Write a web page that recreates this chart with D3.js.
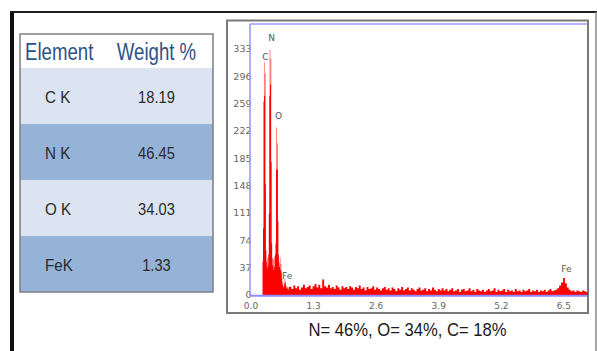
<!DOCTYPE html>
<html><head><meta charset="utf-8">
<script src="https://cdn.jsdelivr.net/npm/d3@7"></script>
<style>body{margin:0;background:#fff}svg{display:block}</style>
</head><body>
<script>
// ---- data ----
const tableHeader = ["Element", "Weight %"];
const elements = ["C K", "N K", "O K", "FeK"];
const weights = ["18.19", "46.45", "34.03", "1.33"];

const yTicks = [0, 37, 74, 111, 148, 185, 222, 259, 296, 333];
const xTicks = [0.0, 1.3, 2.6, 3.9, 5.2, 6.5];

// low-energy channels (keV start / step) with counts
const peakStartKeV = 0.23, peakStepKeV = 0.01;
const peakCounts = [
  0, 45, 90, 262, 315, 270, 300, 150, 60, 45,
  36, 50, 40, 55, 110, 270, 332, 285, 320, 180,
  70, 50, 40, 48, 34, 52, 38, 55, 70, 170,
  227, 170, 205, 100, 55, 44, 38, 50, 34, 42,
  30, 22, 14, 18, 10, 12, 16, 22, 18, 14,
  9, 12, 8, 11, 7, 10, 12
];
// background channels
const bgStartKeV = 0.80, bgStepKeV = 0.04;
const bgCounts = [
  11, 8, 13, 9, 12, 7, 10, 14, 9, 11,
  13, 8, 12, 15, 10, 14, 9, 21, 12, 10,
  14, 9, 11, 8, 13, 10, 7, 12, 9, 11,
  8, 12, 10, 7, 11, 9, 13, 8, 10, 6,
  11, 8, 9, 12, 7, 10, 8, 6, 9, 11,
  7, 9, 6, 10, 8, 5, 9, 7, 11, 6,
  8, 10, 6, 9, 7, 5, 8, 10, 6, 7,
  9, 5, 8, 6, 10, 7, 5, 8, 6, 9,
  6, 8, 5, 7, 9, 5, 6, 8, 4, 7,
  8, 5, 6, 9, 5, 7, 4, 8, 6, 5,
  7, 4, 6, 8, 5, 6, 9, 4, 7, 5,
  6, 8, 4, 7, 5, 6, 4, 8, 5, 6,
  4, 7, 5, 6, 8, 4, 6, 5, 7, 4,
  6, 5, 7, 4, 6, 8, 5, 6, 7, 9,
  13, 17, 23, 16, 10, 7, 5, 6, 4, 6,
  5, 4, 6, 5, 4, 5
];

const peakLabels = ["C", "N", "O", "Fe", "Fe"];
const peakLabelKeV = [0.30, 0.43, 0.575, 0.75, 6.55];
const peakLabelCounts = [318, 344, 238, 22, 31];

const caption = "N= 46%, O= 34%, C= 18%";

// ---- drawing ----
const W = 597, H = 351;
const svg = d3.select("body").append("svg").attr("width", W).attr("height", H)
  .style("background", "#fff");

function squeeze(sel, f) {
  sel.each(function () {
    const len = this.getComputedTextLength();
    d3.select(this).attr("textLength", len * f).attr("lengthAdjust", "spacingAndGlyphs");
  });
}

// outer frame
svg.append("line").attr("x1", 10).attr("x2", 597).attr("y1", 12).attr("y2", 12)
  .attr("stroke", "#1e1e1e").attr("stroke-width", 2);
svg.append("rect").attr("x", 10).attr("y", 12).attr("width", 4).attr("height", H - 12).attr("fill", "#111");
svg.append("line").attr("x1", 596).attr("x2", 596).attr("y1", 12).attr("y2", H)
  .attr("stroke", "#8a8a8a").attr("stroke-width", 1.5);

// ---- table ----
const tX0 = 20, tX1 = 213, tY0 = 34, headH = 34;
const rowBand = d3.scaleBand().domain(elements).range([tY0 + headH, 292]);
const rowFill = ["#dbe4f0", "#95b3d7"];
const tg = svg.append("g");
tg.append("rect").attr("x", tX0).attr("y", tY0).attr("width", tX1 - tX0).attr("height", headH).attr("fill", "#fff");
tg.selectAll("rect.row").data(elements).enter().append("rect").attr("class", "row")
  .attr("x", tX0).attr("width", tX1 - tX0)
  .attr("y", d => rowBand(d)).attr("height", rowBand.bandwidth())
  .attr("fill", (d, i) => rowFill[i % 2]);
tg.append("rect").attr("x", tX0).attr("y", tY0).attr("width", tX1 - tX0).attr("height", 292 - tY0)
  .attr("fill", "none").attr("stroke", "#7f7f7f").attr("stroke-width", 1.5);

const colX = [25, 156.5];
const hdr = tg.selectAll("text.h").data(tableHeader).enter().append("text").attr("class", "h")
  .attr("x", (d, i) => colX[i]).attr("y", 60)
  .attr("text-anchor", (d, i) => i === 0 ? "start" : "middle")
  .attr("font-family", "Liberation Sans, Arial, sans-serif").attr("font-size", 23)
  .attr("fill", "#2e5189").text(d => d);
squeeze(hdr, 0.81);

const c1 = tg.selectAll("text.e").data(elements).enter().append("text").attr("class", "e")
  .attr("x", 45).attr("y", d => rowBand(d) + rowBand.bandwidth() / 2 + 6.5)
  .attr("font-family", "Liberation Sans, Arial, sans-serif").attr("font-size", 16.5)
  .attr("fill", "#2a2a2a").text(d => d);
squeeze(c1, 0.92);
const c2 = tg.selectAll("text.w").data(weights).enter().append("text").attr("class", "w")
  .attr("x", colX[1]).attr("y", (d, i) => rowBand(elements[i]) + rowBand.bandwidth() / 2 + 6.5)
  .attr("text-anchor", "middle")
  .attr("font-family", "Liberation Sans, Arial, sans-serif").attr("font-size", 16.5)
  .attr("fill", "#2a2a2a").text(d => d);
squeeze(c2, 0.89);

// ---- spectrum panel ----
svg.append("rect").attr("x", 227).attr("y", 20.5).attr("width", 361).attr("height", 292.5)
  .attr("fill", "#fff").attr("stroke", "#7a7a7a").attr("stroke-width", 2);

const px0 = 250, px1 = 588, py0 = 24, py1 = 295;
const x = d3.scaleLinear().domain([-0.02, 7.0]).range([px0, px1]);
const y = d3.scaleLinear().domain([0, 367]).range([py1, py0]);

const spectrum = [];
peakCounts.forEach((c, i) => spectrum.push({ e: peakStartKeV + i * peakStepKeV, c }));
bgCounts.forEach((c, i) => spectrum.push({ e: bgStartKeV + i * bgStepKeV, c }));

svg.append("clipPath").attr("id", "plotclip").append("rect")
  .attr("x", px0).attr("y", py0).attr("width", px1 - px0).attr("height", py1 - py0);

const area = d3.area().x(d => x(d.e)).y0(y(0)).y1(d => y(d.c)).curve(d3.curveStepAfter);
svg.append("path").datum(spectrum).attr("clip-path", "url(#plotclip)")
  .attr("d", area).attr("fill", "#ff0000").attr("stroke", "none");

// peak labels
svg.selectAll("text.pk").data(peakLabels).enter().append("text").attr("class", "pk")
  .attr("x", (d, i) => x(peakLabelKeV[i])).attr("y", (d, i) => y(peakLabelCounts[i]))
  .attr("text-anchor", "middle")
  .attr("font-family", "DejaVu Sans, sans-serif").attr("font-size", 9)
  .attr("fill", "#555").text(d => d);

// tick labels
svg.selectAll("text.yt").data(yTicks).enter().append("text").attr("class", "yt")
  .attr("x", 251.5).attr("y", d => y(d)).attr("dy", "0.35em")
  .attr("text-anchor", "end")
  .attr("font-family", "DejaVu Sans, sans-serif").attr("font-size", 9.5)
  .attr("fill", "#666").text(d => d);
svg.selectAll("text.xt").data(xTicks).enter().append("text").attr("class", "xt")
  .attr("x", d => x(d)).attr("y", 308.5)
  .attr("text-anchor", "middle")
  .attr("font-family", "DejaVu Sans, sans-serif").attr("font-size", 9)
  .attr("fill", "#666").text(d => d3.format(".1f")(d));

// plot frame (blue)
svg.append("line").attr("x1", px0).attr("x2", px0).attr("y1", py0).attr("y2", py1 + 1)
  .attr("stroke", "#9a9aff").attr("stroke-width", 1.6);
svg.append("line").attr("x1", px0).attr("x2", px1 - 1).attr("y1", py0).attr("y2", py0)
  .attr("stroke", "#9a9aff").attr("stroke-width", 1.6);
svg.append("line").attr("x1", px0).attr("x2", px1 - 1).attr("y1", py1 + 0.8).attr("y2", py1 + 0.8)
  .attr("stroke", "#8c8cff").attr("stroke-width", 2);

// caption
const cap = svg.append("text").attr("x", 407.5).attr("y", 336).attr("text-anchor", "middle")
  .attr("font-family", "Liberation Sans, Arial, sans-serif").attr("font-size", 19)
  .attr("fill", "#1a1a1a").text(caption);
squeeze(cap, 0.875);
</script>
</body></html>
